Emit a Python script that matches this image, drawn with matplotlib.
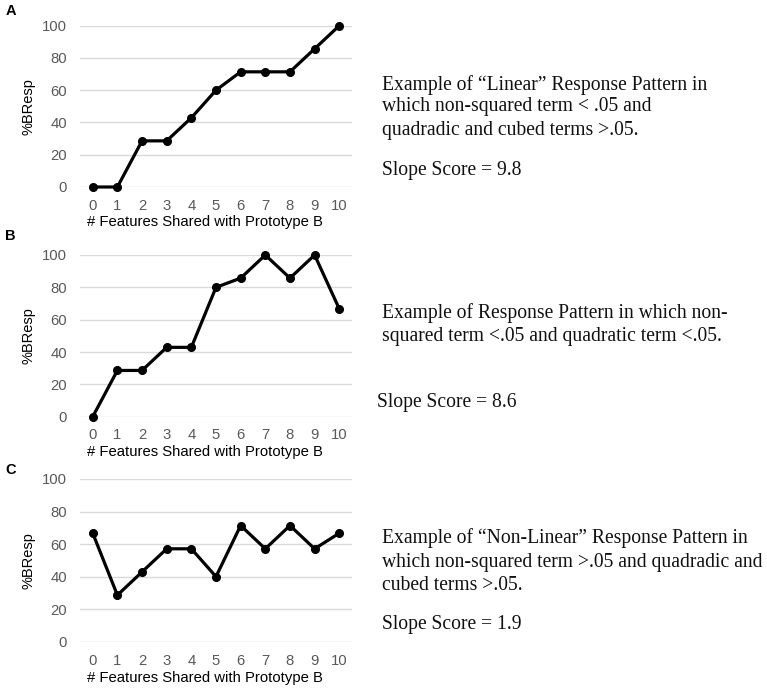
import matplotlib
matplotlib.use("Agg")
import matplotlib.pyplot as plt

features = list(range(11))
tick_labels = [str(f) for f in features]
y_ticks = [0, 20, 40, 60, 80, 100]

resp_a = [0, 0, 28.6, 28.6, 42.9, 60, 71.4, 71.4, 71.4, 85.7, 100]
resp_b = [0, 28.6, 28.6, 42.9, 42.9, 80, 85.7, 100, 85.7, 100, 66.7]
resp_c = [66.7, 28.6, 42.9, 57.1, 57.1, 40, 71.4, 57.1, 71.4, 57.1, 66.7]

panel_letters = ["A", "B", "C"]
xlabel = "# Features Shared with Prototype B"
ylabel = "%BResp"

notes = [
    ["Example of \u201cLinear\u201d Response Pattern in",
     "which non-squared term < .05 and",
     "quadradic and cubed terms >.05."],
    ["Example of Response Pattern in which non-",
     "squared term <.05 and quadratic term <.05."],
    ["Example of \u201cNon-Linear\u201d Response Pattern in",
     "which non-squared term >.05 and quadradic and",
     "cubed terms >.05."],
]
slopes = ["Slope Score = 9.8", "Slope Score = 8.6", "Slope Score = 1.9"]

W, H = 767, 688
fig = plt.figure(figsize=(W / 100, H / 100), dpi=100)

# axes pixel geometry: (top, bottom)
ax_px = [(25.7, 187.0), (255.0, 416.7), (479.0, 641.7)]
left_px, right_px = 80.4, 351.6
letter_y = [11, 236, 470]
note_lines_y = [[85, 107, 130], [313, 337], [538, 562, 585]]
note_x = [382, 382, 382]
slope_y = [170, 402, 625]
slope_x = [382, 377, 382]
tick_pad_px = [18, 16.5, 17.5]
xlabel_off_px = [35, 35, 36]
xlabel_center_px = 205

series = [resp_a, resp_b, resp_c]
FS = 10.7

for i in range(3):
    top, bot = ax_px[i]
    ax = fig.add_axes([left_px / W, 1 - bot / H, (right_px - left_px) / W, (bot - top) / H])
    ax.plot(features, series[i], color="black", lw=2.3, marker="o", ms=5.5,
            clip_on=False, zorder=3)
    ax.set_xlim(-0.5, 10.5)
    ax.set_ylim(0, 100)
    ax.set_yticks(y_ticks)
    ax.set_xticks(features)
    ax.set_xticklabels(tick_labels)
    for s in ax.spines.values():
        s.set_visible(False)
    ax.grid(axis="y", color="#d9d9d9", lw=1.0)
    ax.set_axisbelow(True)
    ax.tick_params(length=0, labelsize=FS, colors="#595959",
                   labelfontfamily="Liberation Sans")
    ax.tick_params(axis="x", pad=tick_pad_px[i] * 0.72 - 4)
    ax.tick_params(axis="y", pad=9.5)
    ax.set_xlabel(xlabel, fontsize=FS, family="Liberation Sans", color="black")
    ax.xaxis.set_label_coords((xlabel_center_px - left_px) / (right_px - left_px),
                              -xlabel_off_px[i] / (bot - top))
    ax.xaxis.label.set_va("center")
    ax.set_ylabel(ylabel, fontsize=10.5, family="Liberation Sans", color="black")
    ax.yaxis.set_label_coords(-52 / (right_px - left_px), 0.5)
    ax.yaxis.label.set_va("center")

    fig.text(10.5 / W, 1 - letter_y[i] / H, panel_letters[i], fontsize=10.5,
             fontweight="bold", family="Liberation Sans", ha="center", va="center")
    for line, yy in zip(notes[i], note_lines_y[i]):
        fig.text(note_x[i] / W, 1 - yy / H, line, fontsize=14.1,
                 family="Liberation Serif", ha="left", va="center", color="#111111")
    fig.text(slope_x[i] / W, 1 - slope_y[i] / H, slopes[i], fontsize=14.1,
             family="Liberation Serif", ha="left", va="center", color="#111111")

fig.savefig("out.png", dpi=100)
